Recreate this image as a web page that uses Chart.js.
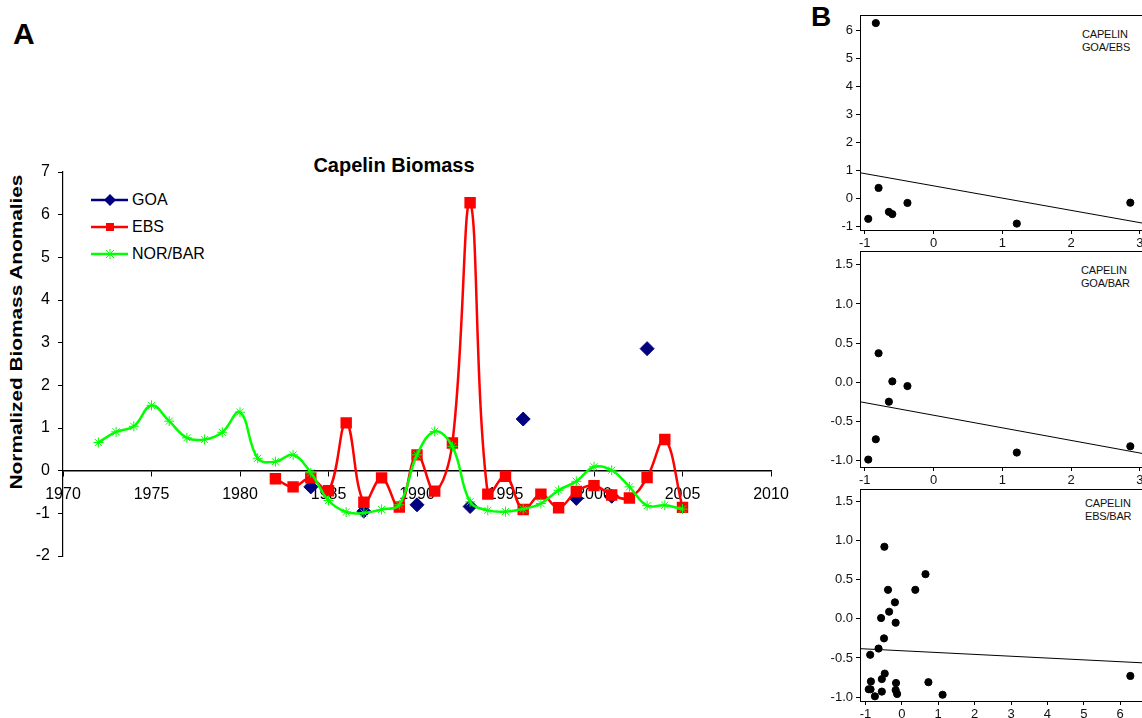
<!DOCTYPE html>
<html>
<head>
<meta charset="utf-8">
<script src="https://cdn.jsdelivr.net/npm/chart.js@4.4.1/dist/chart.umd.min.js"></script>
<style>
  html, body { margin: 0; padding: 0; background: #fff; }
  body { width: 1142px; height: 718px; position: relative; overflow: hidden;
         font-family: "Liberation Sans", Arial, sans-serif; color: #000; }
  canvas { position: absolute; }
  .t { position: absolute; white-space: nowrap; }
  .panelTag { position: absolute; font-size: 11px; line-height: 12.5px; letter-spacing: -0.2px; color: #111; }
  .legRow { position: absolute; left: 90px; height: 20px; font-size: 16px; line-height: 20px; }
  .legRow svg { position: absolute; left: 0; top: 3px; }
  .legRow span { position: absolute; left: 42px; top: 0; }
</style>
</head>
<body>
<div class="t" style="left:13px;top:19px;font-size:30px;line-height:30px;font-weight:bold;">A</div>
<div class="t" style="left:811px;top:3px;font-size:28px;line-height:28px;font-weight:bold;">B</div>

<div class="t" style="left:294px;top:153px;width:200px;text-align:center;font-size:20px;line-height:24px;font-weight:bold;">Capelin Biomass</div>
<div class="t" style="left:-183px;top:322px;width:400px;height:20px;text-align:center;font-size:16px;line-height:20px;font-weight:bold;transform:rotate(-90deg) scaleX(1.3);">Normalized Biomass Anomalies</div>

<div class="legRow" style="top:190px;">
  <svg width="40" height="14"><line x1="1" y1="7" x2="38" y2="7" stroke="#000080" stroke-width="2.5"/><polygon points="20,1 26,7 20,13 14,7" fill="#000080"/></svg>
  <span>GOA</span>
</div>
<div class="legRow" style="top:217px;">
  <svg width="40" height="14"><line x1="1" y1="7" x2="38" y2="7" stroke="#ff0000" stroke-width="2.5"/><rect x="16" y="3" width="8" height="8" fill="#ff0000"/></svg>
  <span>EBS</span>
</div>
<div class="legRow" style="top:244px;">
  <svg width="40" height="14"><line x1="1" y1="7" x2="38" y2="7" stroke="#00ff00" stroke-width="2.5"/><path d="M16,3 L24,11 M24,3 L16,11 M20,2 L20,12" stroke="#00ff00" stroke-width="1"/></svg>
  <span>NOR/BAR</span>
</div>

<div class="panelTag" style="left:1082px;top:28px;">CAPELIN<br>GOA/EBS</div>
<div class="panelTag" style="left:1081px;top:264px;">CAPELIN<br>GOA/BAR</div>
<div class="panelTag" style="left:1085px;top:497px;">CAPELIN<br>EBS/BAR</div>

<canvas id="main" width="800" height="430" style="left:0;top:150px;"></canvas>
<canvas id="p1" width="360" height="250" style="left:790px;top:0;"></canvas>
<canvas id="p2" width="360" height="250" style="left:790px;top:240px;"></canvas>
<canvas id="p3" width="360" height="250" style="left:790px;top:478px;"></canvas>

<script>
// Years of the time series
const years = [1972, 1973, 1974, 1975, 1976, 1977, 1978, 1979, 1980, 1981,
               1982, 1983, 1984, 1985, 1986, 1987, 1988, 1989, 1990, 1991,
               1992, 1993, 1994, 1995, 1996, 1997, 1998, 1999, 2000, 2001,
               2002, 2003, 2004, 2005];

// Normalized biomass anomalies (null = no survey)
const goa = [null, null, null, null, null, null, null, null, null, null,
             null, null, -0.38, null, null, -0.95, null, null, -0.80, null,
             null, -0.84, null, null, 1.21, null, null, -0.65, null, -0.60,
             null, 2.86, null, null];
const ebs = [null, null, null, null, null, null, null, null, null, null,
             -0.19, -0.38, -0.17, -0.47, 1.12, -0.74, -0.17, -0.85, 0.37, -0.48,
             0.65, 6.28, -0.55, -0.13, -0.91, -0.55, -0.87, -0.49, -0.35, -0.57,
             -0.64, -0.16, 0.73, -0.86];
const norBar = [0.66, 0.91, 1.04, 1.53, 1.16, 0.77, 0.73, 0.90, 1.37, 0.29,
                0.21, 0.37, -0.05, -0.70, -0.97, -0.99, -0.91, -0.80, 0.37, 0.92,
                0.57, -0.73, -0.93, -0.96, -0.90, -0.77, -0.46, -0.25, 0.09, 0.01,
                -0.38, -0.82, -0.81, -0.90];

// Tick labels
const mainXTicks = [1970, 1975, 1980, 1985, 1990, 1995, 2000, 2005, 2010];
const mainYTicks = [-2, -1, 0, 1, 2, 3, 4, 5, 6, 7];
const p1XTicks = [-1, 0, 1, 2, 3];
const p1YTicks = [-1, 0, 1, 2, 3, 4, 5, 6];
const p2XTicks = [-1, 0, 1, 2, 3];
const p2YTicks = [-1.0, -0.5, 0.0, 0.5, 1.0, 1.5];
const p3XTicks = [-1, 0, 1, 2, 3, 4, 5, 6];
const p3YTicks = [-1.0, -0.5, 0.0, 0.5, 1.0, 1.5];

const FONT = '"Liberation Sans", Arial, sans-serif';

function series(vals) {
  const pts = [];
  vals.forEach((v, i) => { if (v !== null) pts.push({ x: years[i], y: v }); });
  return pts;
}

// ---- Panel A: time series ----
new Chart(document.getElementById('main'), {
  type: 'line',
  data: {
    datasets: [
      { label: 'GOA', data: series(goa), showLine: false, order: 3,
        pointStyle: 'rectRot', pointRadius: 7, pointBackgroundColor: '#000080',
        pointBorderColor: '#000080', borderColor: '#000080' },
      { label: 'EBS', data: series(ebs), order: 2, tension: 0.4, borderWidth: 2.5,
        borderColor: '#ff0000', pointStyle: 'rect', pointRadius: 6.3,
        pointBackgroundColor: '#ff0000', pointBorderColor: '#ff0000' },
      { label: 'NOR/BAR', data: series(norBar), order: 1, tension: 0.4, borderWidth: 2.5,
        borderColor: '#00ff00', pointStyle: 'star', pointRadius: 5, pointBorderWidth: 1,
        pointBackgroundColor: '#00ff00', pointBorderColor: '#00ff00' }
    ]
  },
  options: {
    responsive: false,
    devicePixelRatio: 1,
    animation: false,
    layout: { padding: { left: 13, top: 22, right: 29, bottom: 24 } },
    plugins: { legend: { display: false }, tooltip: { enabled: false } },
    scales: {
      x: {
        type: 'linear', min: 1970, max: 2010,
        position: { y: 0 },
        afterBuildTicks: s => { s.ticks = mainXTicks.map(v => ({ value: v })); },
        grid: { drawOnChartArea: false, drawTicks: true, tickLength: 5, color: '#000' },
        border: { display: true, color: '#000', width: 1.5 },
        ticks: { color: '#000', padding: 9, maxRotation: 0, font: { family: FONT, size: 16 },
                 callback: v => String(v) }
      },
      y: {
        type: 'linear', min: -2, max: 7, position: 'left',
        afterBuildTicks: s => { s.ticks = mainYTicks.map(v => ({ value: v })); },
        afterFit: s => { s.width = 50; },
        grid: { drawOnChartArea: false, drawTicks: true, tickLength: 5, color: '#000' },
        border: { display: true, color: '#000', width: 1.2 },
        ticks: { color: '#000', padding: 8, font: { family: FONT, size: 16 },
                 callback: v => String(v) }
      }
    }
  }
});

// ---- Panel B: scatter plots with least-squares lines ----
function pairs(xs, ys) {
  const pts = [];
  xs.forEach((v, i) => { if (v !== null && ys[i] !== null) pts.push({ x: v, y: ys[i] }); });
  return pts;
}

function fitLine(pts, x0, x1) {
  const n = pts.length;
  const mx = pts.reduce((s, p) => s + p.x, 0) / n;
  const my = pts.reduce((s, p) => s + p.y, 0) / n;
  let sxy = 0, sxx = 0;
  pts.forEach(p => { sxy += (p.x - mx) * (p.y - my); sxx += (p.x - mx) * (p.x - mx); });
  const b = sxy / sxx, a = my - b * mx;
  return [{ x: x0, y: a + b * x0 }, { x: x1, y: a + b * x1 }];
}

const frame = {
  id: 'frame',
  afterDraw(chart) {
    const { ctx, chartArea: a } = chart;
    ctx.save();
    ctx.strokeStyle = '#000';
    ctx.lineWidth = 1;
    ctx.strokeRect(Math.round(a.left) + 0.5, Math.round(a.top) + 0.5,
                   Math.round(a.right - a.left), Math.round(a.bottom - a.top));
    ctx.restore();
  }
};

function panel(id, pts, xr, yr, xTicks, yTicks, decimals, pad) {
  new Chart(document.getElementById(id), {
    type: 'scatter',
    data: {
      datasets: [
        { data: pts, pointRadius: 3.6, pointBackgroundColor: '#000', pointBorderColor: '#000' },
        { type: 'line', data: fitLine(pts, xr[0], xr[1]), borderColor: '#000', borderWidth: 1,
          pointRadius: 0, tension: 0 }
      ]
    },
    options: {
      responsive: false,
      devicePixelRatio: 1,
      animation: false,
      layout: { padding: pad },
      plugins: { legend: { display: false }, tooltip: { enabled: false } },
      scales: {
        x: {
          type: 'linear', min: xr[0], max: xr[1],
          afterBuildTicks: s => { s.ticks = xTicks.map(v => ({ value: v })); },
          afterFit: s => { s.height = 20; },
          grid: { drawOnChartArea: false, drawTicks: true, tickLength: 4, color: '#000' },
          border: { display: false },
          ticks: { color: '#111', padding: 2, maxRotation: 0, font: { family: FONT, size: 13 },
                   callback: v => String(v) }
        },
        y: {
          type: 'linear', min: yr[0], max: yr[1],
          afterBuildTicks: s => { s.ticks = yTicks.map(v => ({ value: v })); },
          afterFit: s => { s.width = 60; },
          grid: { drawOnChartArea: false, drawTicks: true, tickLength: 4, color: '#000' },
          border: { display: false },
          ticks: { color: '#111', padding: 3, font: { family: FONT, size: 13 },
                   callback: v => v.toFixed(decimals) }
        }
      }
    },
    plugins: [frame]
  });
}

panel('p1', pairs(goa, ebs), [-1.07, 3.03], [-1.14, 6.57], p1XTicks, p1YTicks, 0,
      { left: 10, right: 8, top: 15, bottom: 0 });
panel('p2', pairs(goa, norBar), [-1.07, 3.03], [-1.085, 1.68], p2XTicks, p2YTicks, 1,
      { left: 10, right: 8, top: 9, bottom: 3 });
panel('p3', pairs(ebs, norBar), [-1.15, 6.6], [-1.05, 1.66], p3XTicks, p3YTicks, 1,
      { left: 10, right: 8, top: 9, bottom: 7 });
</script>
</body>
</html>
